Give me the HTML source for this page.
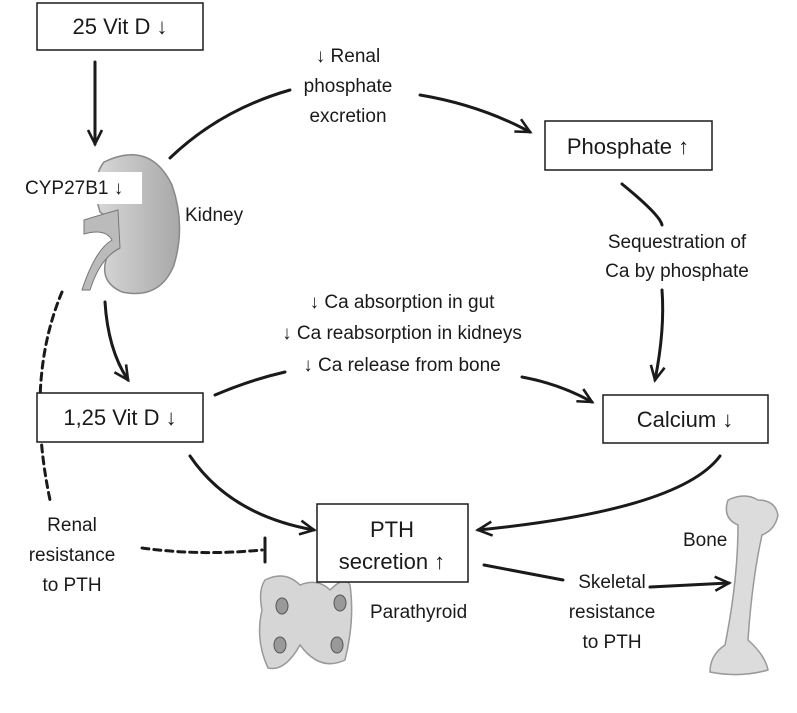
<!DOCTYPE html>
<html><head><meta charset="utf-8"><style>
html,body{margin:0;padding:0;background:#fff}
svg{display:block}
text{font-family:"Liberation Sans","DejaVu Sans",sans-serif;fill:#1a1a1a}
</style></head><body>
<svg width="797" height="713" viewBox="0 0 797 713" xmlns="http://www.w3.org/2000/svg">
<defs>
<marker id="a" markerWidth="18" markerHeight="18" refX="15" refY="8" orient="auto" markerUnits="userSpaceOnUse" viewBox="0 0 18 16">
<path d="M1,1 L15,8 L1,15" fill="none" stroke="#1a1a1a" stroke-width="2.6"/>
</marker>
<linearGradient id="g" x1="0" x2="1"><stop offset="0" stop-color="#d8d8d8"/><stop offset="1" stop-color="#a8a8a8"/></linearGradient>
</defs>
<g stroke="#1a1a1a" stroke-width="3" fill="none" stroke-linecap="round">
<path d="M95,62 L95,144" marker-end="url(#a)"/>
<path d="M170,158 Q220,110 290,90"/>
<path d="M420,95 Q480,105 530,132" marker-end="url(#a)"/>
<path d="M622,184 Q660,215 662,225"/>
<path d="M662,290 Q665,330 655,380" marker-end="url(#a)"/>
<path d="M105,302 Q108,350 128,380" marker-end="url(#a)"/>
<path d="M215,395 Q250,380 285,372"/>
<path d="M522,377 Q560,384 592,402" marker-end="url(#a)"/>
<path d="M190,456 Q230,515 314,530" marker-end="url(#a)"/>
<path d="M720,456 Q680,510 478,530" marker-end="url(#a)"/>
<path d="M484,565 L563,580"/>
<path d="M650,587 L729,583" marker-end="url(#a)"/>
<path d="M62,292 Q25,380 50,500" stroke-dasharray="7,5"/>
<path d="M142,548 Q200,556 262,550" stroke-dasharray="7,5"/>
<path d="M265,538 L265,562"/>
</g>
<!-- kidney -->
<path d="M104,162 Q150,140 172,185 Q186,225 174,265 Q160,300 122,292 Q95,280 110,250 Q120,225 100,212 Q90,180 104,162Z" fill="url(#g)" stroke="#888" stroke-width="1.5"/>
<path d="M118,210 Q100,215 84,220 L84,234 Q105,228 112,240 Q95,250 82,290 L90,290 Q100,258 120,248Z" fill="#bbb" stroke="#777"/>
<rect x="24" y="172" width="118" height="32" fill="#fff"/>
<!-- parathyroid -->
<path d="M265,580 Q285,570 300,585 Q318,578 330,590 Q345,575 350,585 Q355,620 345,660 Q320,672 300,645 Q285,672 268,668 Q255,640 262,610 Q258,590 265,580Z" fill="#d6d6d6" stroke="#999" stroke-width="1.5"/>
<g fill="#999" stroke="#555"><ellipse cx="282" cy="606" rx="6" ry="8"/><ellipse cx="340" cy="603" rx="6" ry="8"/><ellipse cx="280" cy="645" rx="6" ry="8"/><ellipse cx="337" cy="645" rx="6" ry="8"/></g>
<!-- bone -->
<path d="M728,500 Q745,492 758,500 Q775,500 778,515 Q775,530 762,535 Q752,580 748,640 Q765,655 768,670 Q740,678 710,672 Q710,655 725,645 Q738,580 738,525 Q722,518 728,500Z" fill="#dcdcdc" stroke="#999" stroke-width="1.5"/>
<!-- boxes -->
<g fill="#fff" stroke="#1a1a1a" stroke-width="1.5">
<rect x="37" y="3" width="166" height="47"/>
<rect x="545" y="121" width="167" height="49"/>
<rect x="37" y="393" width="166" height="49"/>
<rect x="603" y="395" width="165" height="48"/>
<rect x="317" y="504" width="151" height="78"/>
</g>
<g font-size="22" text-anchor="middle">
<text x="120" y="34">25 Vit D ↓</text>
<text x="628" y="154">Phosphate ↑</text>
<text x="120" y="425">1,25 Vit D ↓</text>
<text x="685" y="427">Calcium ↓</text>
<text x="392" y="537">PTH</text>
<text x="392" y="569">secretion ↑</text>
</g>
<g font-size="19" text-anchor="middle">
<text x="348" y="62">↓ Renal</text>
<text x="348" y="92">phosphate</text>
<text x="348" y="122">excretion</text>
<text x="677" y="248">Sequestration of</text>
<text x="677" y="277">Ca by phosphate</text>
<text x="402" y="308">↓ Ca absorption in gut</text>
<text x="402" y="339">↓ Ca reabsorption in kidneys</text>
<text x="402" y="371">↓ Ca release from bone</text>
<text x="72" y="531">Renal</text>
<text x="72" y="561">resistance</text>
<text x="72" y="591">to PTH</text>
<text x="612" y="588">Skeletal</text>
<text x="612" y="618">resistance</text>
<text x="612" y="648">to PTH</text>
</g>
<g font-size="19">
<text x="25" y="194">CYP27B1 ↓</text>
<text x="185" y="221">Kidney</text>
<text x="370" y="618">Parathyroid</text>
<text x="683" y="546">Bone</text>
</g>
</svg>
</body></html>
